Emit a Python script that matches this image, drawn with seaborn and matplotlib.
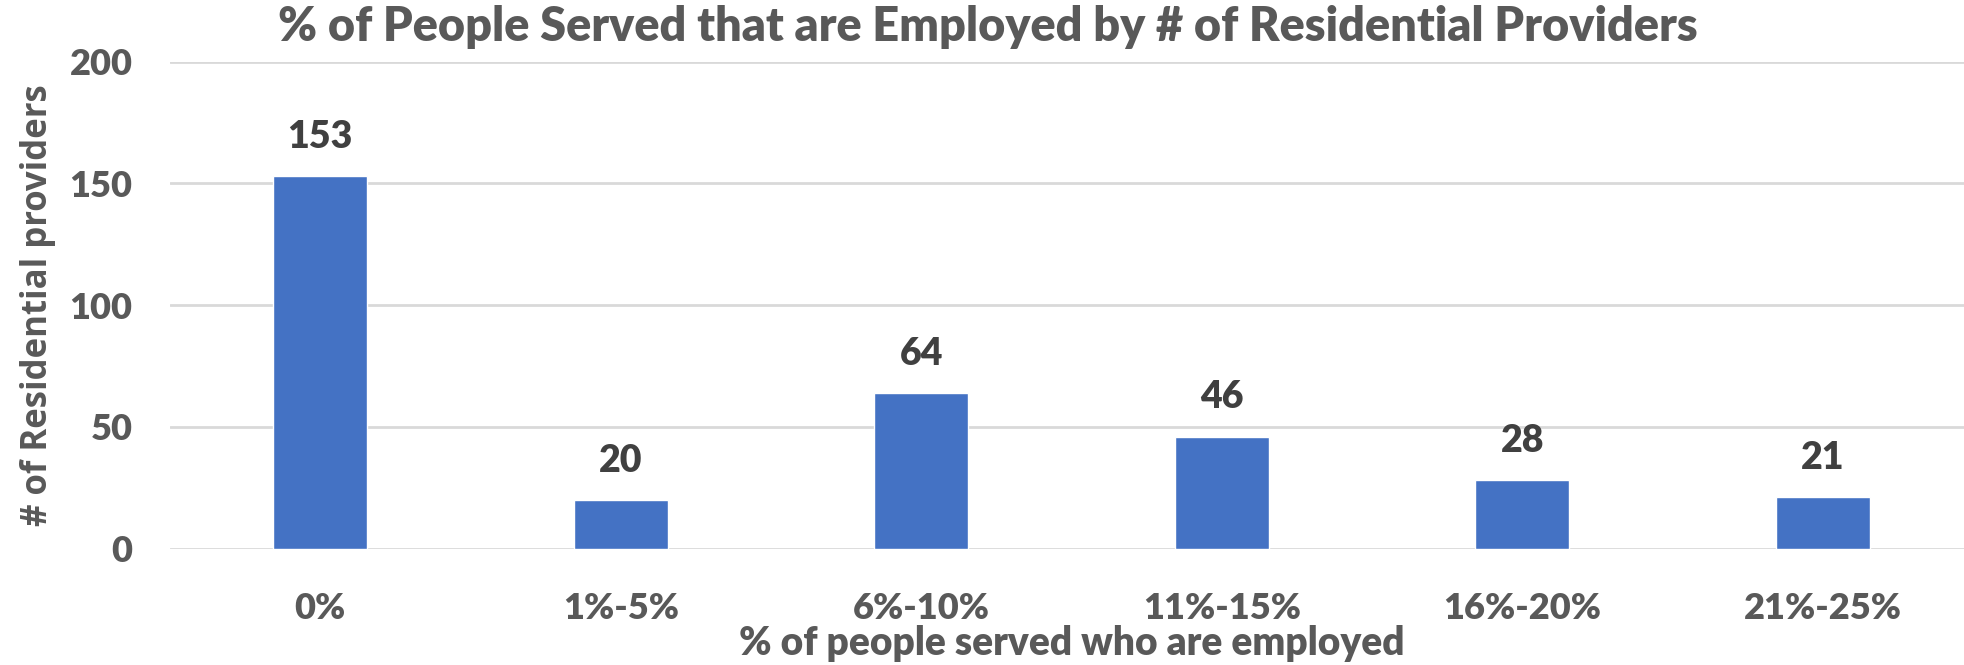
import matplotlib
matplotlib.use("Agg")
import matplotlib.pyplot as plt
import seaborn as sns
import pandas as pd

categories = ["0%", "1%-5%", "6%-10%", "11%-15%", "16%-20%", "21%-25%"]
values = [153, 20, 64, 46, 28, 21]
yticks = [0, 50, 100, 150, 200]
title = "% of People Served that are Employed by # of Residential Providers"
xlabel = "% of people served who are employed"
ylabel = "# of Residential providers"

sns.set_theme(style="white")
plt.rcParams["font.family"] = ["Lato", "DejaVu Sans"]

TXT = "#595959"
W = "heavy"
df = pd.DataFrame({"cat": categories, "val": values})

fig = plt.figure(figsize=(19.64, 6.65), dpi=100)
ax = fig.add_axes([170 / 1964, 116.4 / 665, 1803 / 1964, 487 / 665])
sns.barplot(data=df, x="cat", y="val", color="#4472C4", width=0.313,
            saturation=1, ax=ax, zorder=3)
ax.set_ylim(0, 200)
ax.set_xlim(-0.5, len(categories) - 0.5)
ax.set_yticks(yticks)
ax.yaxis.grid(True, color="#D9D9D9", linewidth=2, zorder=0)
ax.xaxis.grid(False)
for s in ax.spines.values():
    s.set_visible(False)
ax.tick_params(axis="both", length=0, labelsize=26, colors=TXT)
ax.tick_params(axis="x", pad=31)
ax.tick_params(axis="y", pad=27)
for lab in ax.get_xticklabels() + ax.get_yticklabels():
    lab.set_fontweight(W)

for c in ax.containers:
    ax.bar_label(c, labels=[str(v) for v in values], padding=16,
                 fontsize=27, fontweight=W, color="#404040")

ax.set_xlabel(xlabel, fontsize=28, fontweight=W, color=TXT, labelpad=0)
ax.set_ylabel(ylabel, fontsize=25, fontweight="bold", color=TXT, labelpad=10,
              family=["Open Sans", "DejaVu Sans"])
fig.text(988 / 1964, 1 - 27 / 665, title, ha="center", va="center",
         fontsize=33.7, fontweight=W, color=TXT)

fig.savefig("out.png", dpi=100)
